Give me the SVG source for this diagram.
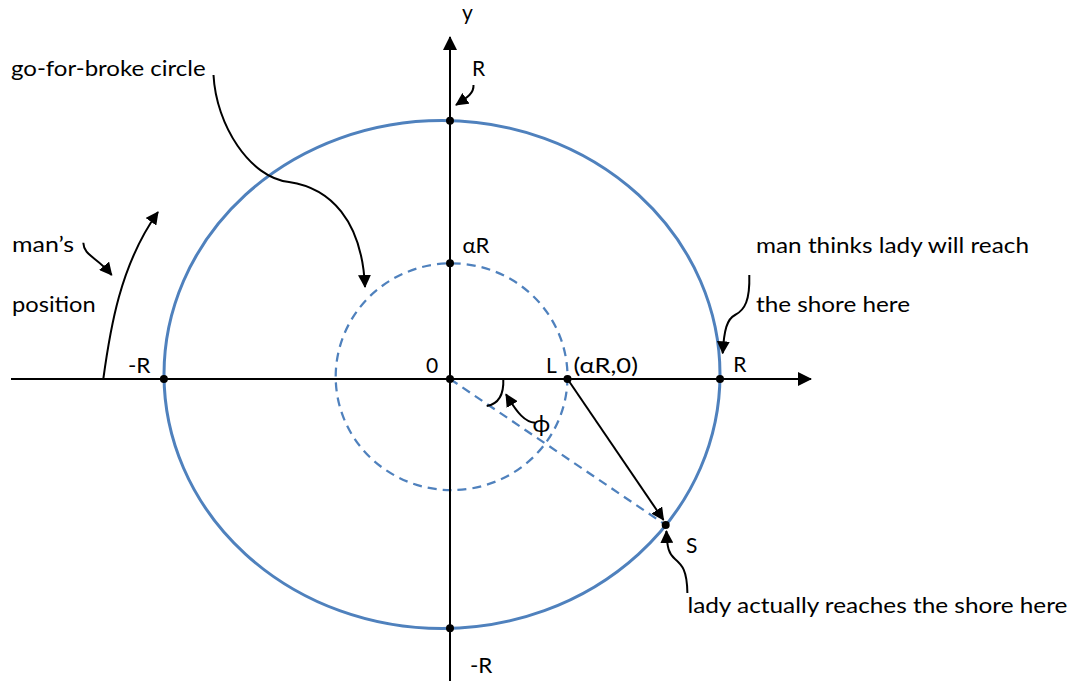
<svg xmlns="http://www.w3.org/2000/svg" width="1078" height="682" viewBox="0 0 1078 682">
<style>
text{font-family:Lato,"Liberation Sans","DejaVu Sans",sans-serif;font-size:21px;fill:#000}
.ln{fill:none;stroke:#000;stroke-width:2}
.shore{fill:none;stroke:#4F81BD;stroke-width:3}
.dash{fill:none;stroke:#4F81BD;stroke-width:2.25;stroke-dasharray:9 6}
.dot{fill:#000}
</style>
<defs>
<marker id="ah" viewBox="0 0 14 14" refX="13" refY="7" markerWidth="14" markerHeight="14" markerUnits="userSpaceOnUse" orient="auto">
<path d="M0,0 L14,7 L0,14 z" fill="#000"/>
</marker>
<marker id="ahs" viewBox="0 0 13 13" refX="12" refY="6.5" markerWidth="13" markerHeight="13" markerUnits="userSpaceOnUse" orient="auto">
<path d="M0,0 L13,6.5 L0,13 z" fill="#000"/>
</marker>
</defs>
<rect width="1078" height="682" fill="#fff"/>
<g id="circles">
<ellipse id="shore-circle" class="shore" cx="442" cy="374.5" rx="278" ry="254"/>
<ellipse id="go-for-broke" class="dash" cx="451.6" cy="376.7" rx="115.9" ry="113.4"/>
</g>
<g id="axes">
<line id="x-axis" class="ln" x1="11" y1="379" x2="811" y2="379" marker-end="url(#ah)"/>
<line id="y-axis" class="ln" x1="450" y1="681" x2="450" y2="37" marker-end="url(#ah)"/>
</g>
<g id="connectors">
<line class="dash" x1="450" y1="379" x2="665.7" y2="525"/>
<line class="ln" x1="567.5" y1="379" x2="663.5" y2="520" marker-end="url(#ahs)"/>
<path class="ln" d="M503.3,379 C504,395 498,404 486.7,406"/>
<path class="ln" d="M535,422.7 C525,422 518,414 506,394.3" marker-end="url(#ahs)"/>
<path class="ln" d="M473.5,85 C474,93 468,97 456,105" marker-end="url(#ahs)"/>
<path class="ln" d="M213.5,75 C216,125 250,178 289,182 C330,188 362,220 365,287" marker-end="url(#ahs)"/>
<path class="ln" d="M83.3,242.7 C84,256 96,256 111.7,275" marker-end="url(#ahs)"/>
<path class="ln" d="M103.3,379 C110,330 120,265 158,212" marker-end="url(#ahs)"/>
<path class="ln" d="M749.3,275 C750,300 745,310 735,315 C727,319 724,330 722.7,353.3" marker-end="url(#ahs)"/>
<path class="ln" d="M687.4,593 C687,570 682,565 675,559 C669,554 667,548 666.4,531" marker-end="url(#ahs)"/>
</g>
<g id="points">
<circle class="dot" cx="450" cy="120.7" r="4"/>
<circle class="dot" cx="450" cy="263.3" r="4"/>
<circle class="dot" cx="163.9" cy="379" r="4"/>
<circle class="dot" cx="450" cy="379" r="4"/>
<circle class="dot" cx="567.5" cy="379" r="4"/>
<circle class="dot" cx="720" cy="379" r="4"/>
<circle class="dot" cx="665.7" cy="525" r="4"/>
<circle class="dot" cx="450" cy="628.3" r="4"/>
</g>
<g id="labels">
<text x="462" y="20">y</text>
<text x="472" y="76">R</text>
<text x="462.5" y="252.7" textLength="27" lengthAdjust="spacingAndGlyphs">αR</text>
<text x="128" y="372.7" textLength="22.5" lengthAdjust="spacingAndGlyphs">-R</text>
<text x="426" y="372.7">0</text>
<text x="546" y="373">L</text>
<text x="573.4" y="373" textLength="64.6" lengthAdjust="spacingAndGlyphs">(αR,0)</text>
<text x="733.3" y="372">R</text>
<text x="686" y="552.7">S</text>
<text x="470" y="673.3" textLength="22.4" lengthAdjust="spacingAndGlyphs">-R</text>
<text x="532.5" y="432" style="font-size:24px">ϕ</text>
</g>
<g id="notes">
<text x="11" y="76" textLength="194.6" lengthAdjust="spacingAndGlyphs">go-for-broke circle</text>
<text x="12" y="252" textLength="62" lengthAdjust="spacingAndGlyphs">man’s</text>
<text x="12" y="311.5" textLength="83.7" lengthAdjust="spacingAndGlyphs">position</text>
<text x="756" y="252.7" textLength="273" lengthAdjust="spacingAndGlyphs">man thinks lady will reach</text>
<text x="756" y="312.3" textLength="154" lengthAdjust="spacingAndGlyphs">the shore here</text>
<text x="687.4" y="612.7" textLength="380" lengthAdjust="spacingAndGlyphs">lady actually reaches the shore here</text>
</g>
</svg>
